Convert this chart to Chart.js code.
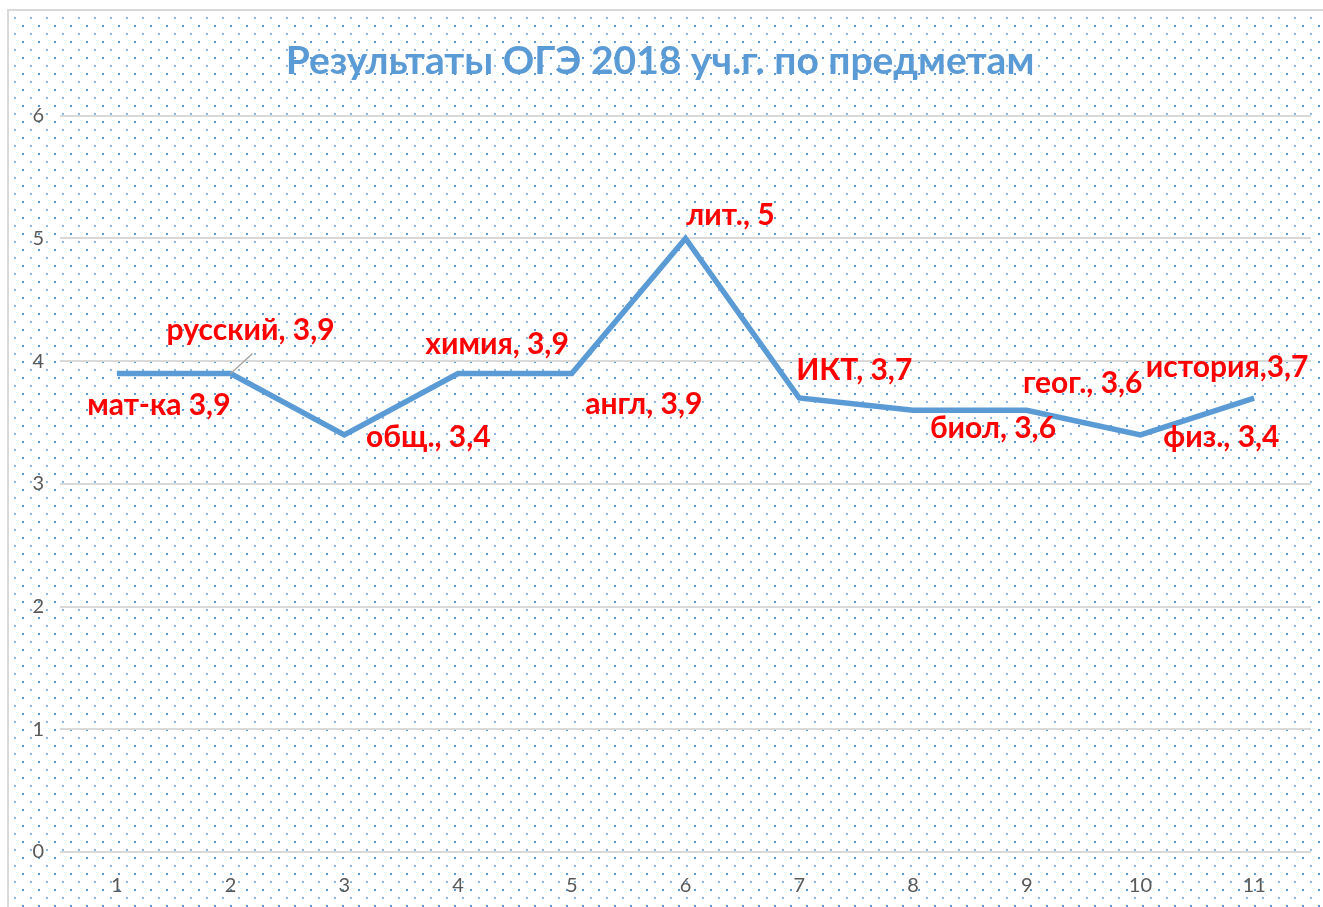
<!DOCTYPE html>
<html>
<head>
<meta charset="utf-8">
<script src="https://cdn.jsdelivr.net/npm/chart.js@4"></script>
<style>
  html, body { margin: 0; padding: 0; background: #fff; }
  #wrap {
    position: absolute; left: 7px; top: 9px; width: 1316px; height: 898px;
    box-sizing: border-box; border: 2px solid #d9d9d9; border-right: none; border-bottom: none;
    background:
      radial-gradient(circle, #5b9bd5 1px, transparent 1.5px) 6px 7px / 16px 16px,
      radial-gradient(circle, #8db8e2 1px, transparent 1.5px) 14px 15px / 16px 16px;
  }
  canvas { position: absolute; left: 0; top: 0; }
</style>
</head>
<body>
<div id="wrap"><canvas id="oge" width="1314" height="896"></canvas></div>
<script>
// номера предметов по оси X
const categories = ['1', '2', '3', '4', '5', '6', '7', '8', '9', '10', '11'];
const subjects = ['мат-ка', 'русский', 'общ.', 'химия', 'англ', 'лит.', 'ИКТ', 'биол', 'геог.', 'физ.', 'история'];
const scores = [3.9, 3.9, 3.4, 3.9, 3.9, 5, 3.7, 3.6, 3.6, 3.4, 3.7];
const separators = [' ', ', ', ', ', ', ', ', ', ', ', ', ', ', ', ', ', ', ', ','];
const yMin = 0, yMax = 6, yStep = 1;

// where each label sits relative to its point (px)
const labelOffsets = [[42, 32], [20, -43], [84, 3], [39, -29], [72, 31], [45, -23],
                      [55, -28], [80, 18], [56, -27], [81, 3], [-27, -31]];

const dataLabels = {
    id: 'dataLabels',
    afterDatasetsDraw(chart) {
        const ctx = chart.ctx;
        const pts = chart.getDatasetMeta(0).data;
        ctx.save();
        // leader line for "русский"
        ctx.strokeStyle = '#a6a6a6';
        ctx.lineWidth = 1.5;
        ctx.beginPath();
        ctx.moveTo(pts[1].x, pts[1].y);
        ctx.lineTo(pts[1].x + 22, pts[1].y - 20);
        ctx.stroke();

        ctx.fillStyle = '#ff0000';
        ctx.font = 'bold 30px Lato';
        ctx.textAlign = 'center';
        ctx.textBaseline = 'middle';
        pts.forEach((p, i) => {
            const txt = subjects[i] + separators[i] + String(scores[i]).replace('.', ',');
            ctx.fillText(txt, p.x + labelOffsets[i][0], p.y + labelOffsets[i][1]);
        });
        ctx.restore();
    }
};

new Chart(document.getElementById('oge'), {
    type: 'line',
    data: {
        labels: categories,
        datasets: [{
            data: scores,
            borderColor: '#5b9bd5',
            borderWidth: 5.5,
            pointRadius: 0,
            tension: 0,
            fill: false
        }]
    },
    options: {
        responsive: false,
        animation: false,
        devicePixelRatio: 1,
        layout: { padding: { right: 12, left: 0, bottom: 0 } },
        plugins: {
            legend: { display: false },
            tooltip: { enabled: false },
            title: {
                display: true,
                text: 'Результаты ОГЭ 2018 уч.г. по предметам',
                color: '#5b9bd5',
                font: { family: 'Lato', size: 39, weight: 'bold', lineHeight: 1.2 },
                padding: { top: 27, bottom: 31 }
            }
        },
        scales: {
            x: {
                offset: true,
                grid: { display: false },
                border: { display: false },
                ticks: { color: '#595959', font: { family: 'Lato', size: 20 }, padding: 14 },
                afterFit(scale) { scale.height = 55; }
            },
            y: {
                min: yMin,
                max: yMax,
                ticks: { stepSize: yStep, color: '#595959', font: { family: 'Lato', size: 20 }, padding: 16 },
                grid: { color: '#d9d9d9', lineWidth: 2, drawTicks: false },
                border: { display: false },
                afterFit(scale) { scale.width = 51; }
            }
        }
    },
    plugins: [dataLabels]
});
</script>
</body>
</html>
